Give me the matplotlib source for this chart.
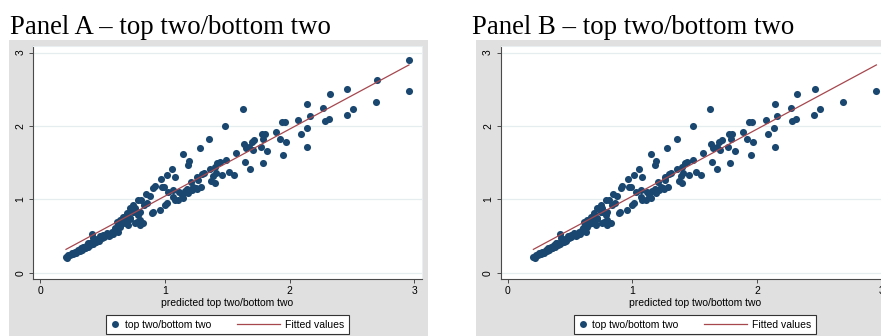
import matplotlib
matplotlib.use("Agg")
import matplotlib.pyplot as plt
from matplotlib.lines import Line2D
from matplotlib.patches import Rectangle
from matplotlib.legend_handler import HandlerLine2D

W, H = 881, 336

NAVY = "#1A476F"
MAROON = "#A6474E"
BG_GRAY = "#E0E0E0"
GRID = "#E6EDEF"
AXIS = "#4A4A4A"
FS = 7.5

# points shared by both panels: predicted vs actual
pred_x = [
    2.956, 2.689, 2.462, 2.505, 2.457, 2.320, 2.270, 2.315, 2.283, 2.141, 2.160,
    2.136, 2.141, 2.088, 2.069, 1.962, 1.935, 1.890, 1.922, 1.970, 1.949,
    1.623, 1.484, 1.355, 1.280, 1.147, 1.190, 1.181, 1.056, 1.080, 1.013, 0.968,
    0.992, 1.566, 1.633, 1.649, 1.695, 1.716, 1.775, 1.802, 1.789, 1.767, 1.820,
    1.783, 1.676, 1.703, 1.641, 1.681, 1.489, 1.441, 1.419, 1.401, 1.361, 1.409,
    1.513, 1.553, 1.457, 1.387, 1.371, 1.401, 1.313, 1.294, 1.259, 1.262, 1.208,
    1.286, 1.254, 1.227, 1.179, 1.115, 1.147, 1.080, 1.000,
    0.920, 0.973, 0.907, 0.848, 0.880, 0.786, 0.810, 0.858, 0.834, 0.746, 0.719,
    0.759, 0.786, 0.692, 0.666, 0.639, 0.719, 0.759, 0.706, 0.826, 0.799, 0.893,
    0.901, 0.960, 1.013, 1.066, 1.133, 1.107, 1.187, 1.214, 1.249, 1.160, 1.066,
    1.027,
    0.206, 0.225, 0.251, 0.278, 0.305, 0.324, 0.345, 0.372, 0.398, 0.425, 0.439,
    0.465, 0.492, 0.505, 0.532, 0.559, 0.572, 0.599, 0.626, 0.639, 0.679, 0.692,
    0.719, 0.746, 0.759, 0.799, 0.799, 0.773, 0.417, 0.359, 0.215, 0.240, 0.265,
    0.290, 0.315, 0.335, 0.355, 0.380, 0.400, 0.420, 0.450, 0.470, 0.510, 0.550,
    0.580, 0.385, 0.440, 0.480, 0.600, 0.650, 0.620, 0.660, 0.613,
]
actual_y = [
    2.477, 2.323, 2.500, 2.227, 2.155, 2.432, 2.250, 2.095, 2.068, 2.305, 2.136,
    1.973, 1.709, 1.886, 2.080, 2.050, 2.059, 1.923, 1.823, 1.782, 1.605,
    2.228, 2.005, 1.823, 1.695, 1.618, 1.523, 1.468, 1.414, 1.310, 1.332, 1.277,
    1.163, 1.636, 1.750, 1.695, 1.787, 1.809, 1.886, 1.886, 1.818, 1.718, 1.664,
    1.500, 1.718, 1.673, 1.509, 1.409, 1.532, 1.514, 1.491, 1.445, 1.414, 1.355,
    1.368, 1.332, 1.332, 1.318, 1.255, 1.227, 1.364, 1.345, 1.309, 1.264, 1.241,
    1.164, 1.136, 1.164, 1.136, 1.105, 1.014, 0.991, 0.923,
    1.182, 1.173, 1.150, 1.068, 1.045, 0.991, 0.990, 0.955, 0.923, 0.923, 0.877,
    0.832, 0.786, 0.809, 0.764, 0.718, 0.727, 0.673, 0.650, 0.673, 0.650, 0.809,
    0.832, 0.855, 0.945, 1.036, 1.059, 0.991, 1.082, 1.127, 1.150, 1.118, 1.127,
    1.105,
    0.218, 0.241, 0.264, 0.286, 0.309, 0.332, 0.355, 0.377, 0.400, 0.468, 0.423,
    0.445, 0.468, 0.514, 0.536, 0.514, 0.559, 0.582, 0.559, 0.627, 0.673, 0.718,
    0.741, 0.832, 0.877, 0.832, 0.718, 0.695, 0.527, 0.332, 0.205, 0.235, 0.255,
    0.270, 0.295, 0.310, 0.330, 0.350, 0.375, 0.390, 0.420, 0.430, 0.480, 0.500,
    0.530, 0.410, 0.460, 0.500, 0.610, 0.660, 0.640, 0.690, 0.695,
]

# two top-right points only visible in panel A
only_a_x = [2.956, 2.697]
only_a_y = [2.900, 2.632]

# fitted values line
fit_x = [0.206, 2.956]
fit_y = [0.318, 2.832]

ticks = [0, 1, 2, 3]
titles = ["Panel A \u2013 top two/bottom two", "Panel B \u2013 top two/bottom two"]
x_title = "predicted top two/bottom two"
legend_labels = ["top two/bottom two", "Fitted values"]


class LongLine(HandlerLine2D):
    # legend line that reaches left past its small handle box
    def get_xdata(self, legend, xdescent, ydescent, width, height, fontsize):
        x1 = -xdescent + width
        return [x1 - 4.1 * fontsize, x1], [x1]


def fig_rect(x0, y0, x1, y1):
    return [x0 / W, 1 - y1 / H, (x1 - x0) / W, (y1 - y0) / H]


def draw_panel(fig, title, off, title_x, xs, ys):
    # grey graph region
    x0, y0, x1, y1 = 9 + off, 40, 428 + off, 345
    fig.add_artist(Rectangle((x0 / W, 1 - y1 / H), (x1 - x0) / W, (y1 - y0) / H,
                             transform=fig.transFigure, facecolor=BG_GRAY,
                             edgecolor="none", zorder=-5))

    ax = fig.add_axes(fig_rect(33.3 + off, 46, 421.7 + off, 279.3))
    ax.set_facecolor("white")
    ax.set_xlim(-0.056, 3.058)
    ax.set_ylim(-0.09, 3.09)
    ax.set_xticks(ticks)
    ax.set_yticks(ticks)
    ax.yaxis.grid(True, color=GRID, lw=0.9)
    ax.set_axisbelow(True)

    for side in ["left", "bottom"]:
        ax.spines[side].set_color(AXIS)
        ax.spines[side].set_linewidth(0.8)
    for side in ["top", "right"]:
        ax.spines[side].set_color("#E9EEF0")
        ax.spines[side].set_linewidth(0.8)

    ax.tick_params(direction="out", length=3, width=0.7, color=AXIS,
                   labelsize=FS, labelcolor="black", pad=1.5)
    ax.tick_params(axis="y", labelrotation=90, pad=2.5)
    for lab in ax.get_yticklabels():
        lab.set_va("center")
        lab.set_family("Liberation Sans")
    for lab in ax.get_xticklabels():
        lab.set_family("Liberation Sans")

    ax.scatter(xs, ys, s=26, color=NAVY, linewidths=0, zorder=3)
    ax.plot(fit_x, fit_y, color=MAROON, lw=0.9, zorder=4)

    ax.set_xlabel(x_title, fontsize=FS, family="Liberation Sans", labelpad=1.5)

    fig.text(title_x / W, 1 - 34 / H, title, family="Liberation Serif",
             fontsize=19.3, va="baseline", ha="left")

    h_dot = Line2D([], [], ls="none", marker="o", ms=5, color=NAVY, mew=0)
    h_line = Line2D([], [], color=MAROON, lw=0.9)
    leg = ax.legend([h_dot, h_line], legend_labels, ncol=2,
                    loc="upper center",
                    bbox_to_anchor=((227.5 + off) / W, 1 - 315 / H),
                    bbox_transform=fig.transFigure,
                    prop={"family": "Liberation Sans", "size": FS},
                    numpoints=1, handlelength=0.8, handletextpad=0.5,
                    columnspacing=5.8, borderpad=0.45, borderaxespad=0,
                    fancybox=False, framealpha=1, facecolor="white",
                    edgecolor="#333333",
                    handler_map={h_line: LongLine()})
    leg.get_frame().set_linewidth(0.8)
    return ax


fig = plt.figure(figsize=(W / 100, H / 100), dpi=100)
fig.patch.set_facecolor("white")

draw_panel(fig, titles[0], 0, 10, pred_x + only_a_x, actual_y + only_a_y)
draw_panel(fig, titles[1], 467.4, 471.7, pred_x, actual_y)

fig.savefig("out.png", dpi=100)
